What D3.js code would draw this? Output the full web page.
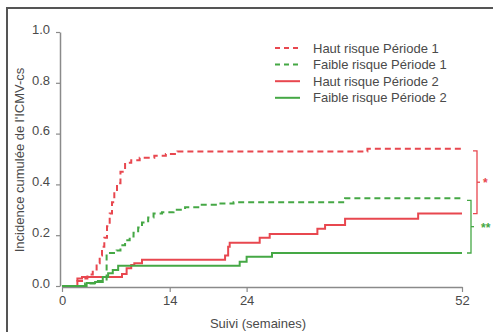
<!DOCTYPE html>
<html>
<head>
<meta charset="utf-8">
<script src="https://cdn.jsdelivr.net/npm/d3@7"></script>
<style>
  body { margin: 0; background: #fff; }
  svg { display: block; font-family: "Liberation Sans", Arial, sans-serif; }
</style>
</head>
<body>
<svg id="chart"></svg>
<script>
// Kaplan-Meier style cumulative incidence (weeks, value)
const hautP1Weeks = [0, 2, 2.6, 3.3, 4.0, 4.5, 4.9, 5.2, 5.5, 5.85, 6.2, 6.5, 6.8, 7.15, 7.6, 8.2, 9, 10.1, 12, 13.5, 15, 39.7, 52];
const hautP1Vals  = [0, 0.02, 0.03, 0.045, 0.06, 0.09, 0.12, 0.155, 0.19, 0.235, 0.285, 0.33, 0.37, 0.405, 0.45, 0.485, 0.495, 0.505, 0.513, 0.52, 0.53, 0.54, 0.54];

const faibleP1Weeks = [0, 3, 4.5, 5.8, 7.1, 7.6, 8.2, 8.8, 9.3, 9.9, 10.4, 11.2, 11.9, 13, 14.5, 16, 18, 20, 22.3, 36.8, 52];
const faibleP1Vals  = [0, 0.01, 0.02, 0.13, 0.14, 0.16, 0.18, 0.195, 0.21, 0.23, 0.25, 0.27, 0.285, 0.29, 0.30, 0.31, 0.32, 0.325, 0.33, 0.345, 0.345];

const hautP2Weeks = [0, 2, 2.6, 7.8, 8.4, 9.0, 9.4, 10.4, 21.2, 21.6, 21.8, 25.7, 27, 33.2, 34.2, 36.8, 46.3, 52];
const hautP2Vals  = [0, 0.03, 0.035, 0.047, 0.07, 0.083, 0.09, 0.103, 0.12, 0.155, 0.17, 0.19, 0.205, 0.225, 0.24, 0.265, 0.285, 0.285];

const faibleP2Weeks = [0, 3.2, 4.3, 5.3, 6.0, 6.6, 7.3, 23.1, 24.0, 27.3, 52];
const faibleP2Vals  = [0, 0.012, 0.016, 0.035, 0.05, 0.063, 0.08, 0.095, 0.115, 0.13, 0.13];

const seriesNames = ["Haut risque Période 1", "Faible risque Période 1", "Haut risque Période 2", "Faible risque Période 2"];
const xTicks = [0, 14, 24, 52];
const yTicks = [0, 0.2, 0.4, 0.6, 0.8, 1.0];

const red = "#e8474f";
const green = "#45a845";
const series = [
    {name: seriesNames[0], weeks: hautP1Weeks, vals: hautP1Vals, color: red, dash: "6,4"},
    {name: seriesNames[1], weeks: faibleP1Weeks, vals: faibleP1Vals, color: green, dash: "6,4"},
    {name: seriesNames[2], weeks: hautP2Weeks, vals: hautP2Vals, color: red, dash: null},
    {name: seriesNames[3], weeks: faibleP2Weeks, vals: faibleP2Vals, color: green, dash: null}
];

const W = 493, H = 332;
const svg = d3.select("#chart").attr("width", W).attr("height", H);

// frame
svg.append("rect")
    .attr("x", 7).attr("y", 8)
    .attr("width", 500).attr("height", 340)
    .attr("fill", "none")
    .attr("stroke", "#555")
    .attr("stroke-width", 2);

const x = d3.scaleLinear().domain([0, 52]).range([62, 462]);
const y = d3.scaleLinear().domain([0, 1]).range([286, 32]);

const axisColor = "#8a8a8a";
const textColor = "#4a4a4a";

// y axis
const yAxis = svg.append("g")
    .attr("transform", "translate(60,0)")
    .call(d3.axisLeft(y).tickValues(yTicks).tickFormat(d3.format(".1f")).tickSize(4).tickSizeOuter(0).tickPadding(6));
// x axis
const xAxis = svg.append("g")
    .attr("transform", "translate(0,287)")
    .call(d3.axisBottom(x).tickValues(xTicks).tickSize(5).tickSizeOuter(0).tickPadding(4));

[yAxis, xAxis].forEach(g => {
    g.select(".domain").attr("stroke", axisColor).attr("stroke-width", 1.5);
    g.selectAll(".tick line").attr("stroke", axisColor).attr("stroke-width", 1.2);
    g.selectAll(".tick text").attr("fill", textColor).style("font-size", "13px")
        .style("font-family", "'Liberation Sans', Arial, sans-serif");
});
yAxis.selectAll(".tick text").attr("dy", "0.1em");

// curves
const line = d3.line()
    .x(d => x(d[0]))
    .y(d => y(d[1]))
    .curve(d3.curveStepAfter);

series.forEach(s => {
    const pts = s.weeks.map((w, i) => [w, s.vals[i]]);
    svg.append("path")
        .datum(pts)
        .attr("d", line)
        .attr("fill", "none")
        .attr("stroke", s.color)
        .attr("stroke-width", 2)
        .attr("stroke-dasharray", s.dash);
});

// legend
const legend = svg.append("g");
series.forEach((s, i) => {
    const ly = 48 + i * 16.6;
    legend.append("line")
        .attr("x1", 275).attr("x2", 300)
        .attr("y1", ly).attr("y2", ly)
        .attr("stroke", s.color)
        .attr("stroke-width", 2)
        .attr("stroke-dasharray", s.dash ? "5,4" : null);
    legend.append("text")
        .attr("x", 313).attr("y", ly)
        .attr("dy", "0.35em")
        .attr("fill", textColor)
        .style("font-size", "13px")
        .text(s.name);
});

// significance brackets
function bracket(xPos, v1, v2, color, label, labelX) {
    const y1 = y(v1) + 2, y2 = y(v2);
    const ym = (y1 + y2) / 2;
    svg.append("path")
        .attr("d", `M${xPos - 4},${y1}H${xPos}V${y2}H${xPos - 4}`)
        .attr("fill", "none")
        .attr("stroke", color)
        .attr("stroke-width", 1.3);
    svg.append("line")
        .attr("x1", xPos).attr("x2", xPos + 3)
        .attr("y1", ym).attr("y2", ym)
        .attr("stroke", color).attr("stroke-width", 1.3);
    svg.append("text")
        .attr("x", labelX).attr("y", ym + 5)
        .attr("fill", color)
        .style("font-size", "12px")
        .style("font-weight", "bold")
        .text(label);
}
bracket(477, hautP1Vals[hautP1Vals.length - 1], hautP2Vals[hautP2Vals.length - 1], red, "*", 483);
bracket(471, faibleP1Vals[faibleP1Vals.length - 1], faibleP2Vals[faibleP2Vals.length - 1], green, "**", 481);

// axis titles
svg.append("text")
    .attr("x", 258).attr("y", 323)
    .attr("dy", "0.35em")
    .attr("text-anchor", "middle")
    .attr("fill", textColor)
    .style("font-size", "13px")
    .text("Suivi (semaines)");

svg.append("text")
    .attr("transform", "translate(19,160) rotate(-90)")
    .attr("dy", "0.35em")
    .attr("text-anchor", "middle")
    .attr("fill", textColor)
    .style("font-size", "13px")
    .text("Incidence cumulée de l'ICMV-cs");
</script>
</body>
</html>
